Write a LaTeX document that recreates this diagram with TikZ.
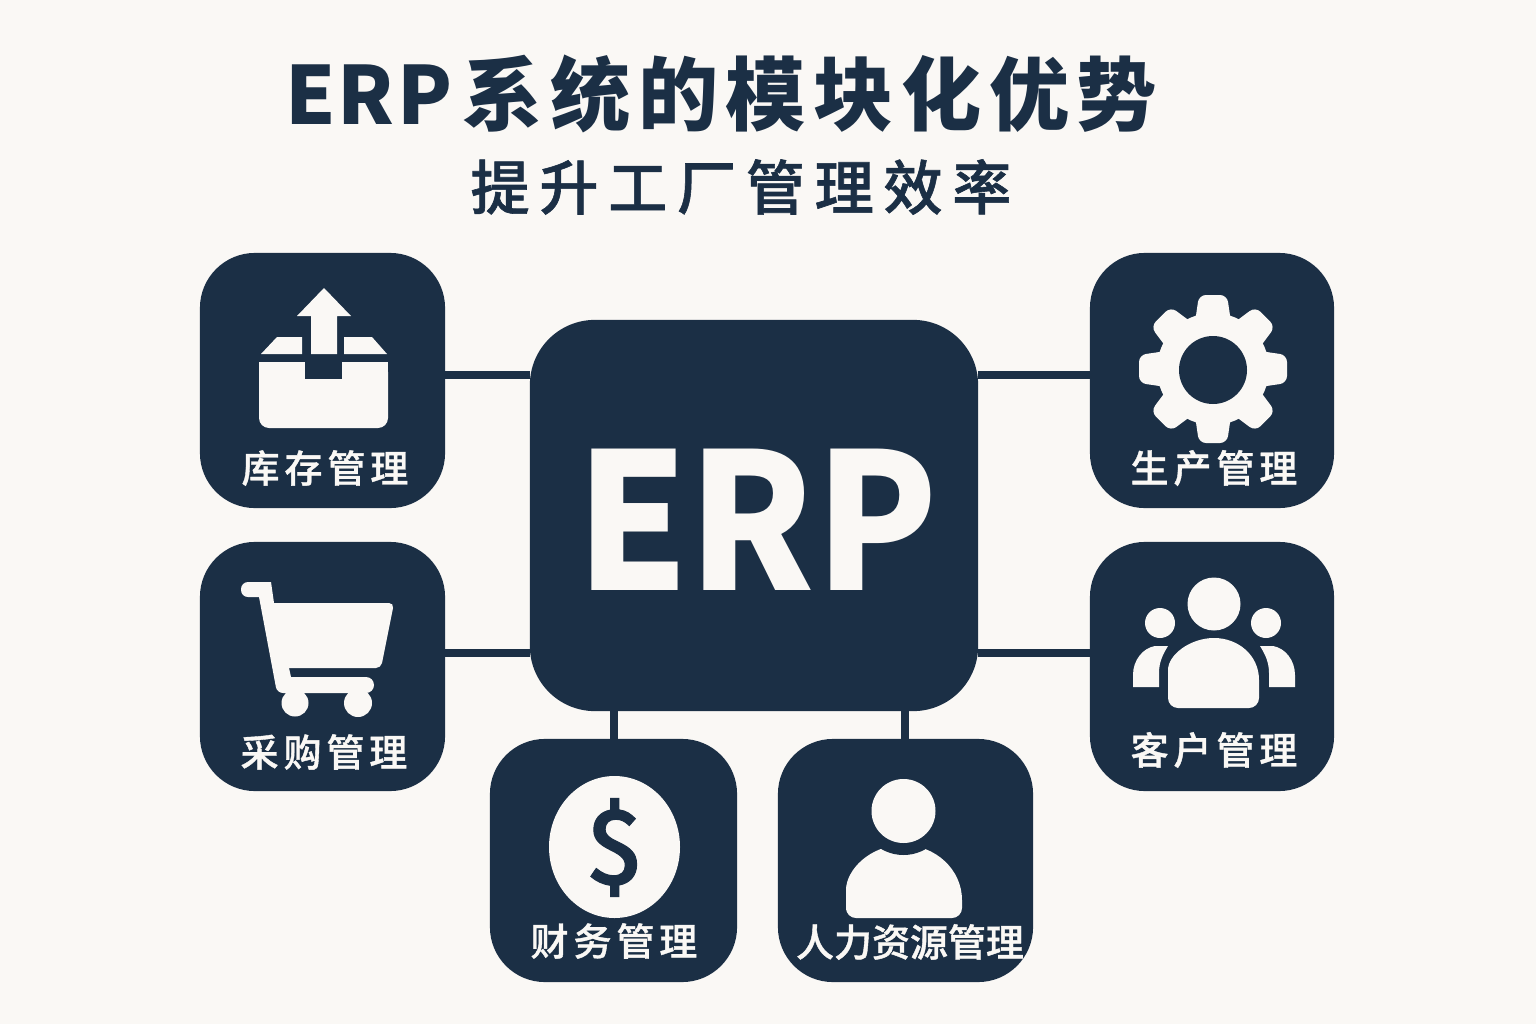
\documentclass[tikz,border=0pt]{standalone}
\usepackage{fontspec}
\newfontfamily\titlefont[LetterSpace=9.4]{Noto Sans CJK SC}
\newfontfamily\erpfont[LetterSpace=3]{Noto Sans CJK SC}
\newfontfamily\subfont[LetterSpace=16.5,FakeBold=1]{Noto Sans CJK SC Medium}
\newfontfamily\labelfont[LetterSpace=13,FakeBold=1]{Noto Sans CJK SC Medium}
\newfontfamily\tightfont[FakeBold=1]{Noto Sans CJK SC Medium}
\newfontfamily\latinfont[FakeStretch=0.94]{Noto Sans CJK SC}

\definecolor{navy}{HTML}{1B2F45}
\definecolor{paper}{HTML}{FAF8F5}

\tikzset{
  modbox/.style={fill=navy, rounded corners=0.55cm, inner sep=0, outer sep=0},
  modlabel/.style={text=paper, inner sep=0, font=\labelfont\fontsize{10.8pt}{13pt}\selectfont},
  link/.style={draw=navy, line width=2.3pt},
  icon/.style={fill=paper},
  hole/.style={fill=navy}
}

\begin{document}
\begin{tikzpicture}[x=0.01cm, y=-0.01cm]
\fill [paper] (0,0) rectangle (1536,1024);
\useasboundingbox (0,0) rectangle (1536,1024);

% Title lines
\node [text=navy, inner sep=0, font=\titlefont\bfseries\fontsize{22.8pt}{28pt}\selectfont]
  (title) at (721,94) {{\erpfont\bfseries ERP}\kern 3pt 系统的模块化优势};
\node [text=navy, inner sep=0, font=\subfont\fontsize{16.8pt}{20pt}\selectfont]
  (subtitle) at (741,187) {提升工厂管理效率};

% The centre block and the six module blocks
\node [modbox, rounded corners=0.65cm, minimum width=4.48cm, minimum height=3.91cm]
  (erp) at (754,515.5) {};
\node [text=paper, inner sep=0, font=\latinfont\bfseries\fontsize{54pt}{60pt}\selectfont]
  (erplabel) at (757,520) {ERP};
\foreach \name/\cx/\cy/\bw/\bh in {
  kucun/322.5/380.5/2.45/2.55,
  caigou/322.5/666.5/2.45/2.49,
  shengchan/1212/380.5/2.44/2.55,
  kehu/1212/666.5/2.44/2.49,
  caiwu/613.5/860.5/2.47/2.43,
  renli/905.5/860.5/2.55/2.43} {
  \node [modbox, minimum width=\bw cm, minimum height=\bh cm] (\name) at (\cx,\cy) {};
}

% Connectors, at the heights where they leave the centre block
\coordinate (upper) at (0,375);
\coordinate (lower) at (0,653);
\coordinate (leftdrop) at (614,0);
\coordinate (rightdrop) at (905,0);
\draw [link] (kucun.east |- upper) -- (erp.west |- upper);
\draw [link] (caigou.east |- lower) -- (erp.west |- lower);
\draw [link] (shengchan.west |- upper) -- (erp.east |- upper);
\draw [link] (kehu.west |- lower) -- (erp.east |- lower);
\draw [link] (leftdrop |- caiwu.north) -- (leftdrop |- erp.south);
\draw [link] (rightdrop |- renli.north) -- (rightdrop |- erp.south);

% Module labels
\foreach \name/\cx/\cy/\lab in {
  kucunlabel/325/468/库存管理,
  caigoulabel/324/752/采购管理,
  shengchanlabel/1214/468/生产管理,
  kehulabel/1214/750/客户管理,
  caiwulabel/614/941/财务管理} {
  \node [modlabel] (\name) at (\cx,\cy) {\lab};
}
\node [modlabel, font=\tightfont\fontsize{10.8pt}{13pt}\selectfont]
  (renlilabel) at (910,942) {人力资源管理};

% Box with the upward arrow
\fill [icon] (261,354) -- (277,337) -- (302,337) -- (302,354) -- cycle;
\fill [icon] (344,354) -- (344,337) -- (372,337) -- (387,354) -- cycle;
\fill [icon] (324,288) -- (297,316) -- (311,316) -- (311,354) -- (337,354) -- (337,316) -- (351,316) -- cycle;
\fill [icon, rounded corners=0.1cm] (259,362) -- (259,428) -- (388,428) -- (388,362) [sharp corners] -- cycle;
\fill [icon] (259,362) rectangle (388,375);
\fill [hole] (305,362) rectangle (342,379);

% Shopping cart
\fill [icon] (274,603) -- (271,582) -- (256,582) [rounded corners=0.07cm] -- (241,582) -- (241,597)
  -- (256,597) [sharp corners] -- (259,597)
  [rounded corners=0.06cm] -- (277,693) [rounded corners=0.08cm] -- (374,693) -- (374,677) [sharp corners]
  -- (291,677) -- (289,668) [rounded corners=0.05cm] -- (381,668) -- (394,603) [sharp corners]
  -- cycle;
\fill [icon] (295,703) circle (13.5);
\fill [icon] (358,703) circle (14);

% Gear
\fill [icon] (1213,369) circle (56);
\foreach \ang in {0,45,...,315} {
  \fill [icon, shift={(1213,369)}, rotate=\ang, rounded corners=0.07cm]
    (40,-19) -- (74,-14) -- (74,14) -- (40,19) -- cycle;
}
\fill [hole] (1213,370) circle (34);

% Group of people
\fill [icon] (1214,604) circle (26.5);
\fill [icon] (1160,623) circle (15);
\fill [icon] (1266,623) circle (15);
\fill [icon] (1168,680) .. controls (1168,655) and (1190,638) .. (1214,638)
  .. controls (1238,638) and (1259,655) .. (1259,680)
  [rounded corners=0.1cm] -- (1259,708) -- (1168,708) -- (1168,680) -- cycle;
\fill [icon] (1133,687) -- (1159,687) -- (1159,673) .. controls (1159,662) and (1163,654) .. (1168,646)
  -- (1155,646) .. controls (1143,648) and (1133,660) .. (1133,675) -- cycle;
\fill [icon] (1295,687) -- (1269,687) -- (1269,673) .. controls (1269,662) and (1265,654) .. (1260,646)
  -- (1273,646) .. controls (1285,648) and (1295,660) .. (1295,675) -- cycle;

% Coin
\fill [icon] (614.5,847) ellipse (65.5 and 71);
\node [text=navy, inner sep=0, font=\tightfont\fontsize{29pt}{34pt}\selectfont]
  (dollar) at (614.5,847.5) {\$};

% Single person
\fill [icon] (846,900) .. controls (846,870) and (870,845) .. (903,845)
  .. controls (936,845) and (962,870) .. (962,900)
  [rounded corners=0.1cm] -- (962,918) -- (846,918) -- (846,900) -- cycle;
\fill [hole] (903.5,811) circle (44);
\fill [icon] (903.5,811) circle (32);
\end{tikzpicture}
\end{document}
